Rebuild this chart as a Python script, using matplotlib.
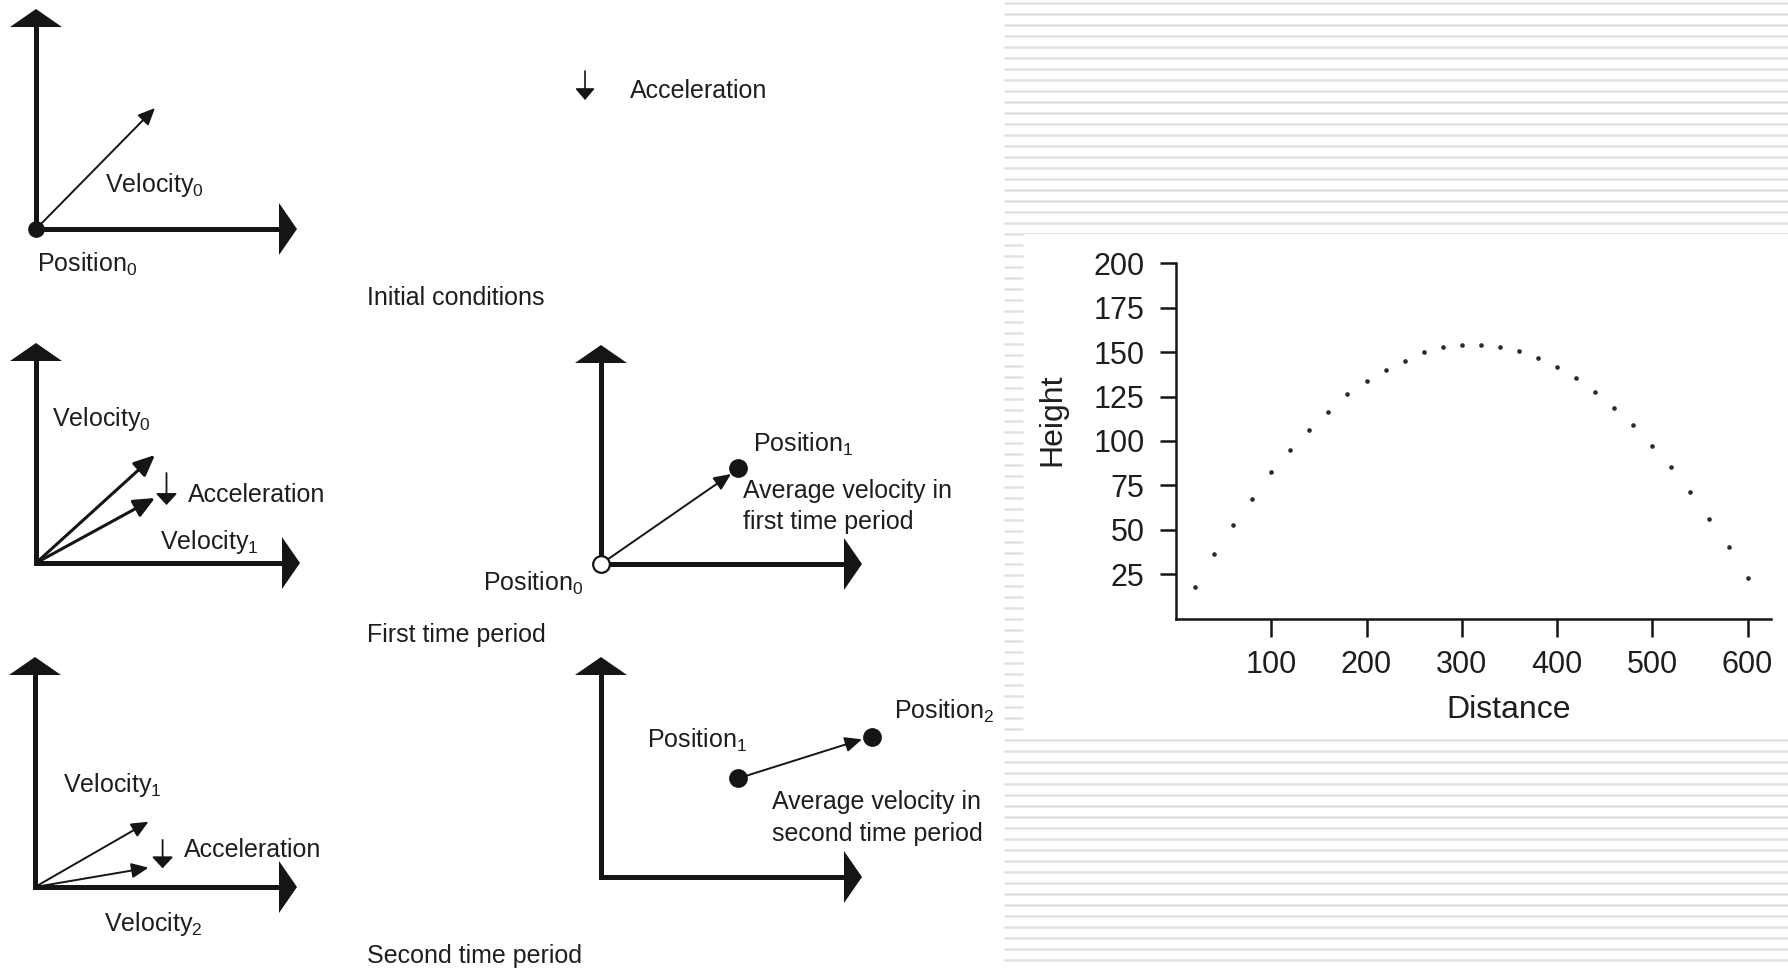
import matplotlib
matplotlib.use("Agg")
import matplotlib.pyplot as plt

# ---------------- data (scatter plot) ----------------
distance = [20, 40, 60, 80, 100, 120, 140, 160, 180, 200,
            220, 240, 260, 280, 300, 320, 340, 360, 380, 400,
            420, 440, 460, 480, 500, 520, 540, 560, 580, 600]
height = [17.5, 36.2, 52.8, 67.4, 82.3, 95.0, 106.2, 116.3, 126.4, 133.7,
          140.2, 144.9, 149.9, 152.9, 154.2, 154.2, 153.1, 150.5, 146.8, 141.5,
          135.2, 127.7, 118.8, 108.8, 97.3, 85.2, 71.5, 56.2, 40.3, 23.0]
x_ticks = [100, 200, 300, 400, 500, 600]
y_ticks = [25, 50, 75, 100, 125, 150, 175, 200]
x_label = "Distance"
y_label = "Height"

# ---------------- diagram texts ----------------
diagram_labels = [
    "Acceleration", "Velocity$_0$", "Position$_0$", "Initial conditions",
    "Velocity$_0$", "Acceleration", "Velocity$_1$",
    "Position$_1$", "Average velocity in", "first time period", "Position$_0$",
    "First time period",
    "Velocity$_1$", "Acceleration", "Velocity$_2$", "Second time period",
    "Position$_1$", "Position$_2$", "Average velocity in", "second time period",
]

# ---------------- layout (pixel coordinates of the canvas) ----------------
W, H = 1788, 968
label_pos = [
    (629.5, 89), (105, 183), (37, 263), (367, 296),
    (51.7, 417), (187.5, 492.7), (160, 540),
    (753, 443), (742.7, 489.3), (742.7, 520), (483, 581.7),
    (367.4, 633),
    (63, 782.7), (183.7, 848.3), (104, 921.7), (366.6, 954),
    (646.7, 738.3), (894, 710), (771.7, 800), (771.7, 831.7),
]
# big coordinate frames: origin x, origin y, top tip y, right tip x
frames = [(36, 229, 9, 297), (36, 563, 343, 300), (601, 564, 345, 862),
          (35, 887, 657, 297), (601, 877, 657, 862)]

plt.rcParams["font.family"] = ["Liberation Sans", "DejaVu Sans"]
plt.rcParams["mathtext.fontset"] = "custom"
plt.rcParams["mathtext.rm"] = "Liberation Sans"
plt.rcParams["mathtext.it"] = "Liberation Sans:italic"
plt.rcParams["mathtext.default"] = "regular"

INK = "#151515"
TXT = "#1e1e1e"

fig = plt.figure(figsize=(W / 100, H / 100), dpi=100)
fig.patch.set_facecolor("white")

ax = fig.add_axes([0, 0, 1, 1])
ax.set_xlim(0, W)
ax.set_ylim(H, 0)
ax.axis("off")

# ---- striped background ----
stripe_col = "#e1e1e1"
for k in range(88):
    y = 3.3 + 11.0 * k
    if 21 <= k <= 66:
        x1 = 1023
    else:
        x1 = W
    ax.plot([1004, x1], [y, y], color=stripe_col, lw=1.8, solid_capstyle="butt", zorder=0)
ax.plot([1023, W], [233.3, 233.3], color="#e4e4e4", lw=0.9, zorder=0)

# ---- big axis frames ----
HL, HW = 18, 26
for ox, oy, vt, hr in frames:
    ax.plot([ox, ox, hr - HL + 1], [vt + HL - 1, oy, oy], color=INK, lw=3.6,
            solid_joinstyle="miter", solid_capstyle="butt", zorder=2)
    ax.fill([ox - HW, ox + HW, ox], [vt + HL, vt + HL, vt], color=INK, lw=0, zorder=2)
    ax.fill([hr - HL, hr - HL, hr], [oy - HW, oy + HW, oy], color=INK, lw=0, zorder=2)


def arrow(x0, y0, x1, y1, lw=1.4, ms=12, hl=0.85, hw=0.38):
    ax.annotate("", xy=(x1, y1), xytext=(x0, y0),
                arrowprops=dict(arrowstyle=f"-|>,head_length={hl},head_width={hw}",
                                lw=lw, color=INK, shrinkA=0, shrinkB=0,
                                mutation_scale=ms), zorder=3)


# panel 1
arrow(36, 229, 155, 108)
arrow(585, 71, 585, 100, lw=1.2, ms=10, hl=0.7, hw=0.6)
# panel 2
arrow(36, 563, 155, 455, lw=2.2, ms=15)
arrow(36, 563, 155, 498, lw=2.2, ms=15)
arrow(166.5, 473, 166.5, 505, lw=1.3, ms=10, hl=0.7, hw=0.65)
# panel 3
arrow(601, 564, 731, 474)
# panel 4
arrow(35, 887, 148.5, 821.7)
arrow(35, 887, 148.5, 867.7)
arrow(162.6, 840, 162.6, 868.3, lw=1.3, ms=10, hl=0.7, hw=0.65)
# panel 5
arrow(738.3, 778.3, 862, 739.3)

# dots
ax.plot([36], [229], "o", ms=11, color=INK, zorder=4)
ax.plot([601], [564], "o", ms=12, mfc="white", mec=INK, mew=1.6, zorder=4)
ax.plot([737.7], [468.3], "o", ms=12.5, color=INK, zorder=4)
ax.plot([738.3], [778.3], "o", ms=12.5, color=INK, zorder=4)
ax.plot([871.7], [736.7], "o", ms=12.5, color=INK, zorder=4)

# texts
for s, (x, yc) in zip(diagram_labels, label_pos):
    ax.text(x, yc + 9, s, fontsize=18, color=TXT, ha="left", va="baseline", zorder=5)

# ---------------- scatter plot ----------------
left = 1176 / W
right = 1771.4 / W
bottom = (H - 618.5) / H
top = (H - 263.3) / H
sax = fig.add_axes([left, bottom, right - left, top - bottom])
sax.set_facecolor("none")
sax.scatter(distance, height, s=11, marker="o", color="#2a2a2a", linewidths=0, zorder=3)
sax.set_xlim(0, 625)
sax.set_ylim(0, 200)
sax.set_xticks(x_ticks)
sax.set_yticks(y_ticks)
for sp in ("top", "right"):
    sax.spines[sp].set_visible(False)
for sp in ("left", "bottom"):
    sax.spines[sp].set_linewidth(1.8)
    sax.spines[sp].set_color(INK)
sax.tick_params(axis="y", direction="out", length=11.5, width=1.8, color=INK,
                labelsize=22, pad=11, labelcolor=TXT)
sax.tick_params(axis="x", direction="out", length=13, width=1.8, color=INK,
                labelsize=22, pad=10, labelcolor=TXT)
sax.set_xlabel(x_label, fontsize=23, color=TXT, va="center")
sax.set_ylabel(y_label, fontsize=23, color=TXT, va="center")
sax.xaxis.set_label_coords(0.5585, -0.2576)
sax.yaxis.set_label_coords(-0.2069, 0.5588)

fig.savefig("out.png", dpi=100, facecolor="white")
